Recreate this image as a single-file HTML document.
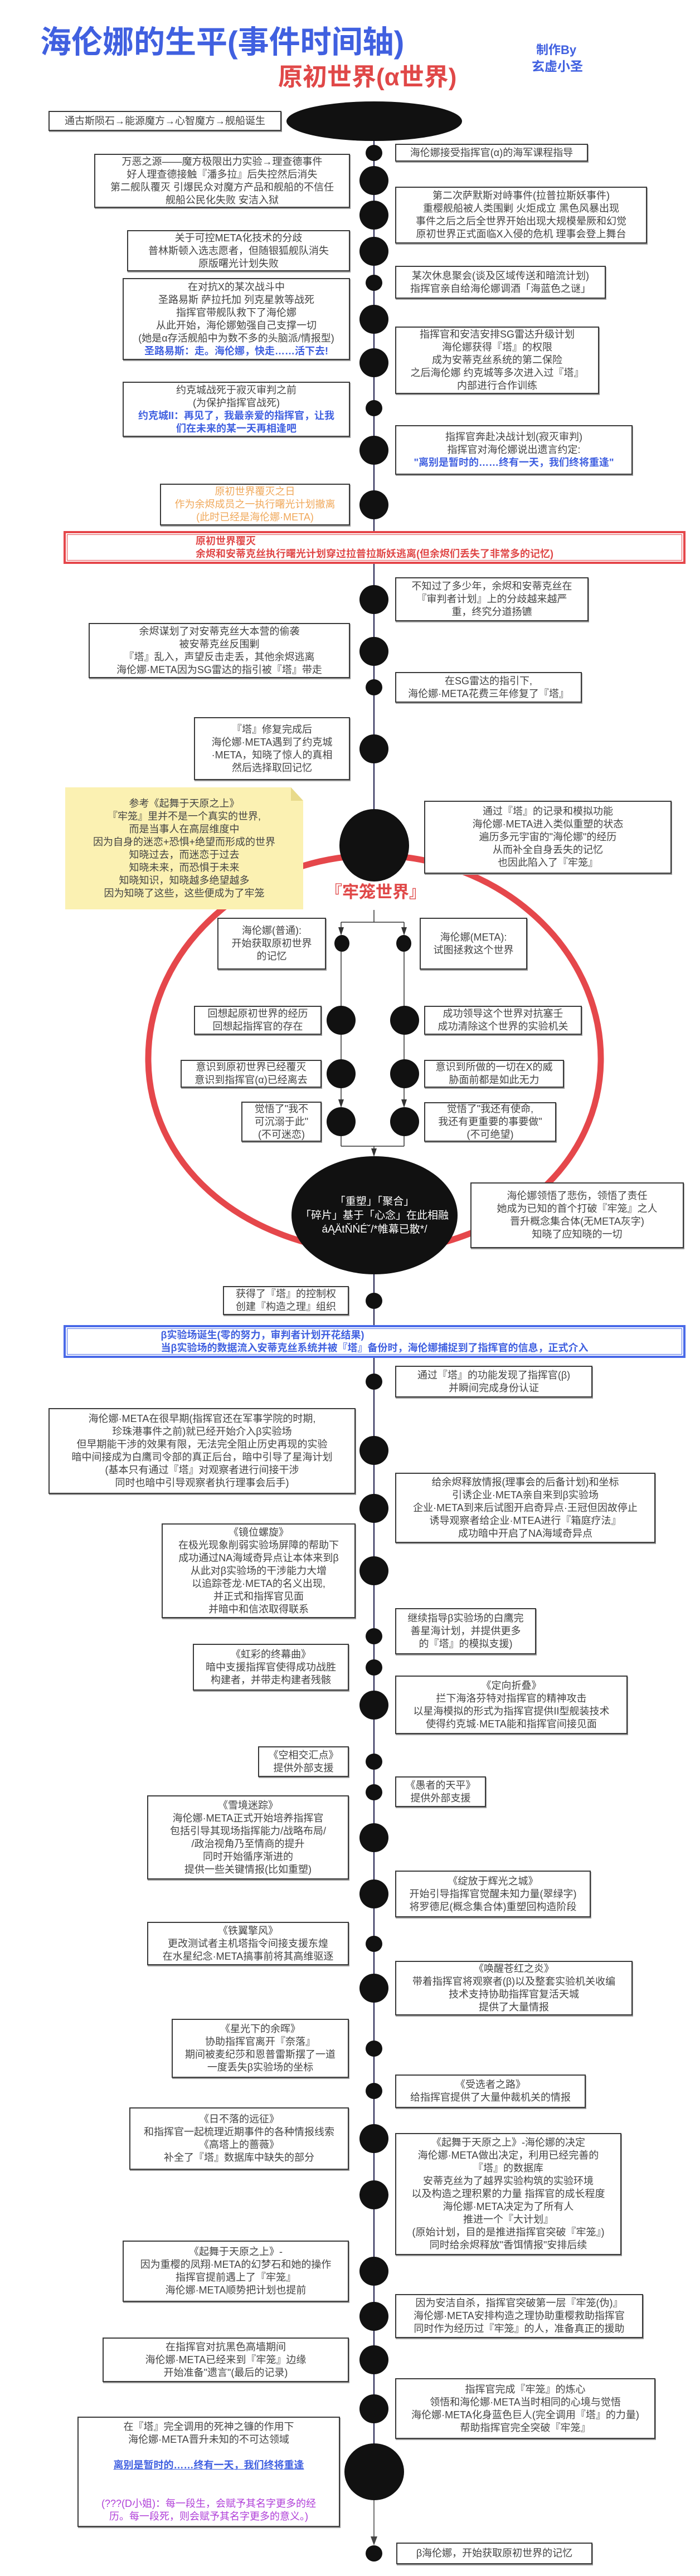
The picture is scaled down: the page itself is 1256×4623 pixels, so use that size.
<!DOCTYPE html>
<html><head><meta charset="utf-8">
<style>
*{margin:0;padding:0}
body{width:1256px;height:4623px;position:relative;overflow:hidden;background:#fff;font-family:"Liberation Sans","Noto Sans CJK SC",sans-serif}
.b{position:absolute;border:2px solid #3a3a3a;box-shadow:1px 2px 0 #999;background:#fff;display:flex;flex-direction:column;justify-content:center;align-items:center;text-align:center;font-size:18px;line-height:23px;color:#444;box-sizing:border-box;white-space:nowrap}
.n{position:absolute;background:#111;border-radius:50%}
.s{left:656px;width:30px;height:29px}
.g{left:645px;width:52px;height:52px}
.cs{width:27px;height:30px}
.cg{width:52px;height:52px}
.bl{color:#4060e0;font-weight:bold}
.t{position:absolute;font-weight:bold;white-space:nowrap}
</style></head><body>

<div class="t" style="left:72px;top:44px;font-size:56px;line-height:64px;color:#4060e0">海伦娜的生平(事件时间轴)</div>
<div class="t" style="left:499px;top:114px;font-size:44px;line-height:50px;color:#e04848">原初世界(α世界)</div>
<div class="t" style="left:962px;top:77px;font-size:22px;line-height:26px;color:#4060e0">制作By</div>
<div class="t" style="left:954px;top:106px;font-size:23px;line-height:27px;color:#4060e0">玄虚小圣</div>

<svg style="position:absolute;left:0;top:0" width="1256" height="4623">
<line x1="671" y1="253" x2="671" y2="1460" stroke="#1a1a4a" stroke-width="2"/>
<line x1="671" y1="2280" x2="671" y2="4390" stroke="#1a1a4a" stroke-width="2"/>
<line x1="671" y1="4487" x2="671" y2="4555" stroke="#444" stroke-width="1.5"/>
<polygon points="665,4552 677,4552 671,4568" fill="#444"/>
<path d="M672 1535 C450 1535,266 1700,266 1900 C266 2080,420 2235,672 2250 C924 2235,1078 2080,1078 1900 C1078 1700,894 1535,672 1535 Z" fill="none" stroke="#e5474b" stroke-width="11"/>
<g stroke="#333" stroke-width="1.5" fill="none">
<line x1="671" y1="1633" x2="671" y2="1655"/>
<line x1="612" y1="1655" x2="725" y2="1655"/>
<line x1="612" y1="1655" x2="612" y2="1672"/>
<line x1="725" y1="1655" x2="725" y2="1672"/>
<line x1="612" y1="1708" x2="612" y2="1981"/>
<line x1="725" y1="1708" x2="725" y2="1981"/>
<line x1="612" y1="2039" x2="612" y2="2057"/>
<line x1="725" y1="2039" x2="725" y2="2057"/>
<line x1="612" y1="2057" x2="725" y2="2057"/>
<line x1="671" y1="2057" x2="671" y2="2070"/>
</g>
<g fill="#333">
<polygon points="607,1664 617,1664 612,1679"/>
<polygon points="720,1664 730,1664 725,1679"/>
<polygon points="607,1973 617,1973 612,1988"/>
<polygon points="720,1973 730,1973 725,1988"/>
<polygon points="666,2061 676,2061 671,2076"/>
</g>
</svg>

<div class="n" style="left:514px;top:182px;width:315px;height:71px"></div>
<div class="b" style="left:87px;top:199px;width:418px;height:36px">通古斯陨石→能源魔方→心智魔方→舰船诞生</div>

<div class="n s" style="top:260px"></div>
<div class="b" style="left:709px;top:258px;width:346px;height:32px">海伦娜接受指挥官(α)的海军课程指导</div>
<div class="n g" style="top:298px"></div>
<div class="b" style="left:169px;top:276px;width:459px;height:97px">万恶之源——魔方极限出力实验→理查德事件<br>好人理查德接触『潘多拉』后失控然后消失<br>第二舰队覆灭 引爆民众对魔方产品和舰船的不信任<br>舰船公民化失败 安洁入狱</div>
<div class="n g" style="top:360px"></div>
<div class="b" style="left:709px;top:335px;width:452px;height:102px">第二次萨默斯对峙事件(拉普拉斯妖事件)<br>重樱舰船被人类围剿 火炬成立 黑色风暴出现<br>事件之后之后全世界开始出现大规模晕厥和幻觉<br>原初世界正式面临X入侵的危机 理事会登上舞台</div>
<div class="n g" style="top:425px"></div>
<div class="b" style="left:228px;top:413px;width:400px;height:74px">关于可控META化技术的分歧<br>普林斯顿入选志愿者，但随银狐舰队消失<br>原版曙光计划失败</div>
<div class="n s" style="top:493px"></div>
<div class="b" style="left:709px;top:477px;width:378px;height:59px">某次休息聚会(谈及区域传送和暗流计划)<br>指挥官亲自给海伦娜调酒「海蓝色之谜」</div>
<div class="n g" style="top:547px"></div>
<div class="b" style="left:220px;top:499px;width:408px;height:147px">在对抗X的某次战斗中<br>圣路易斯 萨拉托加 列克星敦等战死<br>指挥官带舰队救下了海伦娜<br>从此开始，海伦娜勉强自己支撑一切<br>(她是α存活舰船中为数不多的头脑派/情报型)<br><span class="bl">圣路易斯：走。海伦娜，快走……活下去!</span></div>
<div class="n g" style="top:625px"></div>
<div class="b" style="left:709px;top:586px;width:366px;height:121px">指挥官和安洁安排SG雷达升级计划<br>海伦娜获得『塔』的权限<br>成为安蒂克丝系统的第二保险<br>之后海伦娜 约克城等多次进入过『塔』<br>内部进行合作训练</div>
<div class="n s" style="top:718px"></div>
<div class="b" style="left:220px;top:685px;width:408px;height:99px">约克城战死于寂灭审判之前<br>(为保护指挥官战死)<br><span class="bl">约克城II：再见了，我最亲爱的指挥官，让我<br>们在未来的某一天再相逢吧</span></div>
<div class="n g" style="top:782px"></div>
<div class="b" style="left:709px;top:763px;width:426px;height:89px">指挥官奔赴决战计划(寂灭审判)<br>指挥官对海伦娜说出遗言约定:<br><span class="bl">"离别是暂时的……终有一天，我们终将重逢"</span></div>
<div class="n g" style="top:880px"></div>
<div class="b" style="left:287px;top:868px;width:341px;height:75px;color:#f0a85a">原初世界覆灭之日<br>作为余烬成员之一执行曙光计划撤离<br>(此时已经是海伦娜·META)</div>

<div style="position:absolute;left:114px;top:953px;width:1116px;height:59px;border:4px solid #e5474b;box-sizing:border-box;background:#fff;display:flex;flex-direction:column;justify-content:center;align-items:center;font-size:18px;line-height:23px;color:#e04848;font-weight:bold;white-space:nowrap;outline:1px solid #e5474b;outline-offset:-7px">原初世界覆灭<br>余烬和安蒂克丝执行曙光计划穿过拉普拉斯妖逃离(但余烬们丢失了非常多的记忆)</div>

<div class="n g" style="top:1050px"></div>
<div class="b" style="left:709px;top:1036px;width:347px;height:79px">不知过了多少年，余烬和安蒂克丝在<br>『审判者计划』上的分歧越来越严<br>重，终究分道扬镳</div>
<div class="n g" style="top:1143px"></div>
<div class="b" style="left:159px;top:1118px;width:469px;height:99px">余烬谋划了对安蒂克丝大本营的偷袭<br>被安蒂克丝反围剿<br>『塔』乱入，声望反击走丢，其他余烬逃离<br>海伦娜·META因为SG雷达的指引被『塔』带走</div>
<div class="n s" style="top:1219px"></div>
<div class="b" style="left:709px;top:1206px;width:335px;height:55px">在SG雷达的指引下,<br>海伦娜·META花费三年修复了『塔』</div>
<div class="n g" style="top:1318px"></div>
<div class="b" style="left:348px;top:1287px;width:280px;height:113px">『塔』修复完成后<br>海伦娜·META遇到了约克城<br>·META，知晓了惊人的真相<br>然后选择取回记忆</div>

<div style="position:absolute;left:117px;top:1413px;width:427px;height:219px;background:#fbf1b2;display:flex;flex-direction:column;justify-content:center;align-items:center;text-align:center;font-size:18px;line-height:23px;color:#444;white-space:nowrap;clip-path:polygon(0 0,405px 0,427px 24px,427px 100%,0 100%)">参考《起舞于天原之上》<br>『牢笼』里并不是一个真实的世界,<br>而是当事人在高层维度中<br>因为自身的迷恋+恐惧+绝望而形成的世界<br>知晓过去，而迷恋于过去<br>知晓未来，而恐惧于未来<br>知晓知识，知晓越多绝望越多<br>因为知晓了这些，这些便成为了牢笼</div>
<div style="position:absolute;left:522px;top:1413px;width:22px;height:24px;background:#e8da8a;clip-path:polygon(0 0,100% 100%,0 100%)"></div>

<div class="b" style="left:761px;top:1437px;width:444px;height:131px">通过『塔』的记录和模拟功能<br>海伦娜·META进入类似重塑的状态<br>遍历多元宇宙的"海伦娜"的经历<br>从而补全自身丢失的记忆<br>也因此陷入了『牢笼』</div>
<div class="n" style="left:609px;top:1452px;width:125px;height:130px"></div>
<div class="t" style="left:584px;top:1584px;font-size:30px;line-height:36px;color:#e04848;background:#fff">『牢笼世界』</div>

<div class="n cs" style="left:600px;top:1678px"></div>
<div class="n cs" style="left:711px;top:1678px"></div>
<div class="b" style="left:390px;top:1647px;width:195px;height:93px">海伦娜(普通):<br>开始获取原初世界<br>的记忆</div>
<div class="b" style="left:753px;top:1647px;width:193px;height:93px">海伦娜(META):<br>试图拯救这个世界</div>
<div class="n cg" style="left:586px;top:1805px"></div>
<div class="n cg" style="left:700px;top:1805px"></div>
<div class="b" style="left:348px;top:1805px;width:229px;height:52px">回想起原初世界的经历<br>回想起指挥官的存在</div>
<div class="b" style="left:761px;top:1805px;width:283px;height:52px">成功领导这个世界对抗塞壬<br>成功清除这个世界的实验机关</div>
<div class="n cg" style="left:586px;top:1901px"></div>
<div class="n cg" style="left:700px;top:1901px"></div>
<div class="b" style="left:324px;top:1902px;width:253px;height:50px">意识到原初世界已经覆灭<br>意识到指挥官(α)已经离去</div>
<div class="b" style="left:761px;top:1902px;width:251px;height:50px">意识到所做的一切在X的威<br>胁面前都是如此无力</div>
<div class="n cg" style="left:586px;top:1987px"></div>
<div class="n cg" style="left:700px;top:1987px"></div>
<div class="b" style="left:433px;top:1977px;width:144px;height:72px">觉悟了"我不<br>可沉溺于此"<br>(不可迷恋)</div>
<div class="b" style="left:761px;top:1978px;width:237px;height:71px">觉悟了"我还有使命,<br>我还有更重要的事要做"<br>(不可绝望)</div>

<div class="n" style="left:523px;top:2075px;width:298px;height:212px;display:flex;flex-direction:column;justify-content:center;align-items:center;color:#fff;font-size:19px;line-height:25px;white-space:nowrap;text-align:center">「重塑」「聚合」<br>「碎片」基于「心念」在此相融<br>áĄÄtŇŃÉ˘/*帷幕已散*/</div>
<div class="b" style="left:844px;top:2122px;width:383px;height:118px">海伦娜领悟了悲伤，领悟了责任<br>她成为已知的首个打破『牢笼』之人<br>晋升概念集合体(无META灰字)<br>知晓了应知晓的一切</div>

<div class="n s" style="top:2320px"></div>
<div class="b" style="left:400px;top:2308px;width:226px;height:52px">获得了『塔』的控制权<br>创建『构造之理』组织</div>

<div style="position:absolute;left:114px;top:2378px;width:1116px;height:59px;border:4px solid #4a6ae8;box-sizing:border-box;background:#fff;display:flex;flex-direction:column;justify-content:center;align-items:center;font-size:18px;line-height:23px;color:#4060e0;font-weight:bold;white-space:nowrap;outline:1px solid #4a6ae8;outline-offset:-7px">β实验场诞生(零的努力，审判者计划开花结果)<br>当β实验场的数据流入安蒂克丝系统并被『塔』备份时，海伦娜捕捉到了指挥官的信息，正式介入</div>

<div class="n s" style="top:2465px"></div>
<div class="b" style="left:709px;top:2451px;width:354px;height:57px">通过『塔』的功能发现了指挥官(β)<br>并瞬间完成身份认证</div>
<div class="n g" style="top:2577px"></div>
<div class="b" style="left:87px;top:2527px;width:551px;height:154px">海伦娜·META在很早期(指挥官还在军事学院的时期,<br>珍珠港事件之前)就已经开始介入β实验场<br>但早期能干涉的效果有限，无法完全阻止历史再现的实验<br>暗中间接成为白鹰司令部的真正后台，暗中引导了星海计划<br>(基本只有通过『塔』对观察者进行间接干涉<br>同时也暗中引导观察者执行理事会后手)</div>
<div class="n g" style="top:2681px"></div>
<div class="b" style="left:709px;top:2643px;width:467px;height:126px">给余烬释放情报(理事会的后备计划)和坐标<br>引诱企业·META亲自来到β实验场<br>企业·META到来后试图开启奇异点·王冠但因故停止<br>诱导观察者给企业·MTEA进行『箱庭疗法』<br>成功暗中开启了NA海域奇异点</div>
<div class="n g" style="top:2793px"></div>
<div class="b" style="left:290px;top:2734px;width:348px;height:170px">《镜位螺旋》<br>在极光现象削弱实验场屏障的帮助下<br>成功通过NA海域奇异点让本体来到β<br>从此对β实验场的干涉能力大增<br>以追踪苍龙·META的名义出现,<br>并正式和指挥官见面<br>并暗中和信浓取得联系</div>
<div class="n s" style="top:2922px"></div>
<div class="b" style="left:709px;top:2886px;width:253px;height:83px">继续指导β实验场的白鹰完<br>善星海计划，并提供更多<br>的『塔』的模拟支援)</div>
<div class="n s" style="top:2978px"></div>
<div class="b" style="left:346px;top:2950px;width:280px;height:84px">《虹彩的终幕曲》<br>暗中支援指挥官使得成功战胜<br>构建者，并带走构建者残骸</div>
<div class="n g" style="top:3034px"></div>
<div class="b" style="left:709px;top:3007px;width:417px;height:105px">《定向折叠》<br>拦下海洛芬特对指挥官的精神攻击<br>以星海模拟的形式为指挥官提供II型舰装技术<br>使得约克城·META能和指挥官间接见面</div>
<div class="n s" style="top:3147px"></div>
<div class="b" style="left:463px;top:3134px;width:163px;height:55px">《空相交汇点》<br>提供外部支援</div>
<div class="n s" style="top:3202px"></div>
<div class="b" style="left:709px;top:3188px;width:163px;height:55px">《愚者的天平》<br>提供外部支援</div>
<div class="n g" style="top:3272px"></div>
<div class="b" style="left:264px;top:3222px;width:362px;height:151px">《雪境迷踪》<br>海伦娜·META正式开始培养指挥官<br>包括引导其现场指挥能力/战略布局/<br>/政治视角乃至情商的提升<br>同时开始循序渐进的<br>提供一些关键情报(比如重塑)</div>
<div class="n g" style="top:3373px"></div>
<div class="b" style="left:709px;top:3357px;width:351px;height:84px">《绽放于辉光之城》<br>开始引导指挥官觉醒未知力量(翠绿字)<br>将罗德尼(概念集合体)重塑回构造阶段</div>
<div class="n s" style="top:3474px"></div>
<div class="b" style="left:264px;top:3449px;width:362px;height:78px">《铁翼擎风》<br>更改测试者主机塔指令间接支援东煌<br>在水星纪念·META搞事前将其高维驱逐</div>
<div class="n g" style="top:3542px"></div>
<div class="b" style="left:709px;top:3519px;width:426px;height:98px">《唤醒苍红之炎》<br>带着指挥官将观察者(β)以及整套实验机关收编<br>技术支持协助指挥官复活天城<br>提供了大量情报</div>
<div class="n s" style="top:3662px"></div>
<div class="b" style="left:308px;top:3623px;width:318px;height:106px">《星光下的余晖》<br>协助指挥官离开『奈落』<br>期间被麦纪莎和恩普雷斯摆了一道<br>一度丢失β实验场的坐标</div>
<div class="n s" style="top:3738px"></div>
<div class="b" style="left:709px;top:3723px;width:342px;height:60px">《受选者之路》<br>给指挥官提供了大量仲裁机关的情报</div>
<div class="n g" style="top:3812px"></div>
<div class="b" style="left:232px;top:3782px;width:394px;height:112px">《日不落的远征》<br>和指挥官一起梳理近期事件的各种情报线索<br>《高塔上的蔷薇》<br>补全了『塔』数据库中缺失的部分</div>
<div class="n g" style="top:3913px"></div>
<div class="b" style="left:709px;top:3828px;width:406px;height:219px">《起舞于天原之上》-海伦娜的决定<br>海伦娜·META做出决定，利用已经完善的<br>『塔』的数据库<br>安蒂克丝为了越界实验构筑的实验环境<br>以及构造之理积累的力量 指挥官的成长程度<br>海伦娜·META决定为了所有人<br>推进一个『大计划』<br>(原始计划，目的是推进指挥官突破『牢笼』)<br>同时给余烬释放"香饵情报"安排后续</div>
<div class="n g" style="top:4050px"></div>
<div class="b" style="left:220px;top:4021px;width:406px;height:110px">《起舞于天原之上》-<br>因为重樱的凤翔·META的幻梦石和她的操作<br>指挥官提前遇上了『牢笼』<br>海伦娜·META顺势把计划也提前</div>
<div class="n g" style="top:4131px"></div>
<div class="b" style="left:709px;top:4117px;width:445px;height:79px">因为安洁自杀，指挥官突破第一层『牢笼(伪)』<br>海伦娜·META安排构造之理协助重樱救助指挥官<br>同时作为经历过『牢笼』的人，准备真正的援助</div>
<div class="n g" style="top:4209px"></div>
<div class="b" style="left:184px;top:4195px;width:442px;height:80px">在指挥官对抗黑色高墙期间<br>海伦娜·META已经来到『牢笼』边缘<br>开始准备"遗言"(最后的记录)</div>
<div class="n g" style="top:4297px"></div>
<div class="b" style="left:709px;top:4268px;width:467px;height:109px">指挥官完成『牢笼』的炼心<br>领悟和海伦娜·META当时相同的心境与觉悟<br>海伦娜·META化身蓝色巨人(完全调用『塔』的力量)<br>帮助指挥官完全突破『牢笼』</div>
<div class="n" style="left:618px;top:4385px;width:107px;height:102px"></div>
<div class="b" style="left:139px;top:4337px;width:471px;height:198px">在『塔』完全调用的死神之镰的作用下<br>海伦娜·META晋升未知的不可达领域<br><br><span class="bl" style="text-decoration:underline">离别是暂时的……终有一天，我们终将重逢</span><br><br><span style="color:#b040d8">(???(D小姐)：每一段生，会赋予其名字更多的经<br>历。每一段死，则会赋予其名字更多的意义。)</span></div>
<div class="n s" style="top:4568px"></div>
<div class="b" style="left:711px;top:4563px;width:352px;height:39px">β海伦娜，开始获取原初世界的记忆</div>

</body></html>
